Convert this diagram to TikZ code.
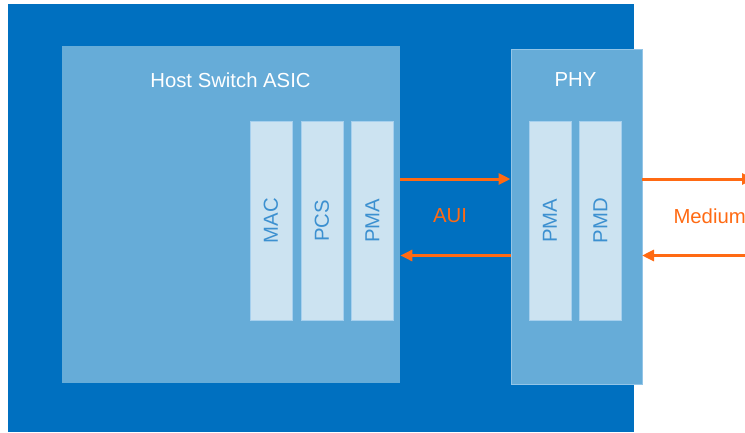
\documentclass[tikz,border=0pt]{standalone}
\usepackage{fontspec}
\setmainfont{Liberation Sans}
\usetikzlibrary{arrows.meta}
\definecolor{deepblue}{HTML}{0070C0}
\definecolor{midblue}{HTML}{66ACD8}
\definecolor{paleblue}{HTML}{CCE3F1}
\definecolor{edgeblue}{HTML}{A6D0EE}
\definecolor{layertext}{HTML}{3C90D0}
\definecolor{linkorange}{HTML}{FF6A13}
\tikzset{
  x=1pt, y=-1pt,
  block/.style={fill=midblue, draw=none, inner sep=0pt, anchor=north west},
  layer/.style={fill=paleblue, draw=edgeblue, line width=0.6pt, inner sep=0pt,
    anchor=north west, minimum width=42pt, minimum height=199pt},
  layerlabel/.style={text=layertext, font=\fontsize{20.3}{24}\selectfont, rotate=90},
  title/.style={text=white, font=\fontsize{20.3}{24}\selectfont},
  linklabel/.style={text=linkorange, font=\fontsize{20.3}{24}\selectfont},
  link/.style={draw=linkorange, line width=3pt,
    -{Triangle[length=12pt,width=11pt]}}
}
\begin{document}
\begin{tikzpicture}
\useasboundingbox (0,0) rectangle (745,432);
% background
\fill[deepblue] (8,4) rectangle (634,432);
% host ASIC
\node[block, minimum width=338pt, minimum height=337pt] (host) at (62,46) {};
\node[title] (hosttitle) at (230.5,80) {Host Switch ASIC};
\node[layer] (mac) at (249.5,121) {};
\node[layer] (pcs) at (300.5,121) {};
\node[layer] (pmaA) at (351,121) {};
\node[layerlabel] at (mac.center) {MAC};
\node[layerlabel] at (pcs.center) {PCS};
\node[layerlabel] at (pmaA.center) {PMA};
% PHY
\node[block, draw=edgeblue!70!midblue, line width=0.5pt, minimum width=131pt, minimum height=335pt] (phy) at (510.5,49) {};
\node[title] (phytitle) at (575.5,80) {PHY};
\node[layer] (pmaB) at (528.5,121) {};
\node[layer] (pmd) at (579,121) {};
\node[layerlabel] at (pmaB.center) {PMA};
\node[layerlabel] at (pmd.center) {PMD};
% links
\node[linklabel] (aui) at (450,216) {AUI};
\node[linklabel, anchor=west] (medium) at (670,216) {Medium};
\coordinate (outTx) at (754,179);
\coordinate (outRx) at (745,255.5);
\draw[link] (host.east |- 0,179) -- (phy.west |- 0,179);
\draw[link] (phy.west |- 0,255.5) -- (host.east |- 0,255.5);
\draw[link] (phy.east |- outTx) -- (outTx);
\draw[link] (outRx) -- (phy.east |- outRx);
\end{tikzpicture}
\end{document}
